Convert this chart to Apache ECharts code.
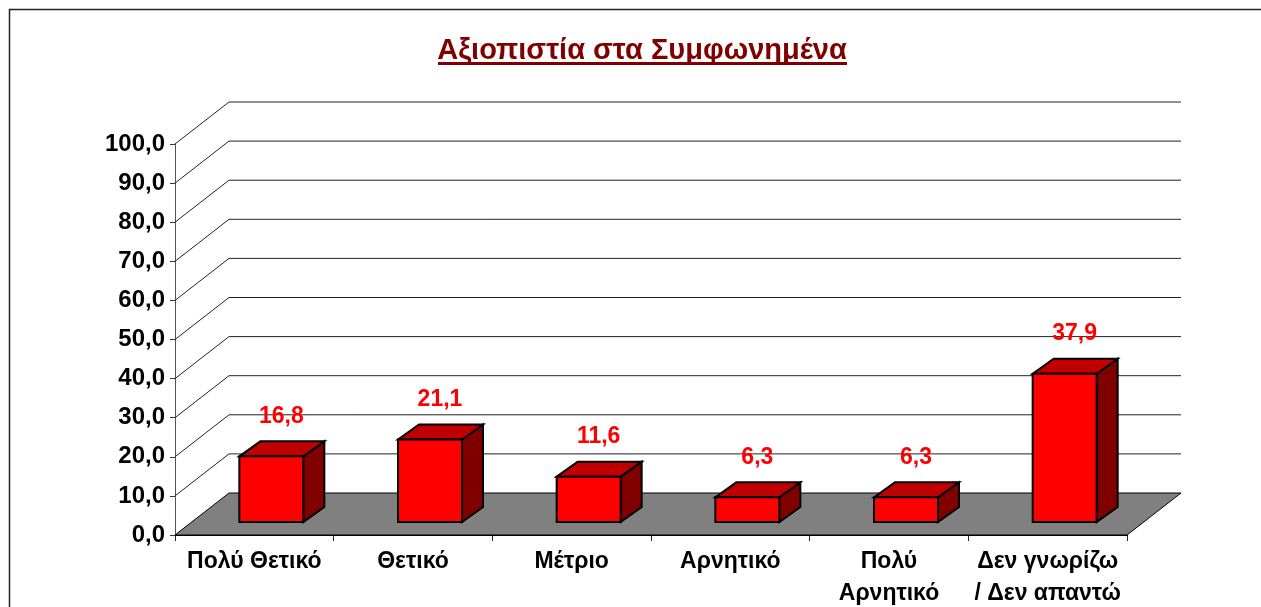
<!DOCTYPE html>
<html>
<head>
<meta charset="utf-8">
<title>Αξιοπιστία στα Συμφωνημένα</title>
<style>
html, body { margin: 0; padding: 0; background: #fff; overflow: hidden; }
#main { width: 1261px; height: 607px; }
</style>
<script src="https://cdn.jsdelivr.net/npm/echarts@6/dist/echarts.min.js"></script>
</head>
<body>
<div id="main"></div>
<script>
var categories = ['Πολύ Θετικό', 'Θετικό', 'Μέτριο', 'Αρνητικό', 'Πολύ\nΑρνητικό', 'Δεν γνωρίζω\n/ Δεν απαντώ'];
var values = [16.8, 21.1, 11.6, 6.3, 6.3, 37.9];
var ticks = [0, 10, 20, 30, 40, 50, 60, 70, 80, 90, 100];

// fake 3d offsets, in pixels
var wallDx = 54, wallDy = -42;
var barDx = 17, barDy = -13;
var depthDx = 21, depthDy = -15;
var barWidth = 64;

function comma(v) {
    return v.toFixed(1).replace('.', ',');
}

function renderWall(params, api) {
    var sys = params.coordSys;
    var v = api.value(1);
    var y = api.coord([0, v])[1];
    var x0 = sys.x, x1 = sys.x + sys.width;
    if (v === 0) {
        return {
            type: 'polygon',
            shape: { points: [[x0, y], [x0 + wallDx, y + wallDy], [x1 + wallDx, y + wallDy], [x1, y]] },
            style: { fill: '#808080', stroke: '#000', lineWidth: 1 },
            z2: 0
        };
    }
    return {
        type: 'polyline',
        shape: { points: [[x0, y], [x0 + wallDx, y + wallDy], [x1 + wallDx, y + wallDy]] },
        style: { fill: null, stroke: '#222', lineWidth: 1 }
    };
}

function renderBar(params, api) {
    var v = api.value(1);
    var top = api.coord([api.value(0), v]);
    var base = api.coord([api.value(0), 0]);
    var l = top[0] - barWidth / 2 + barDx, r = l + barWidth;
    var t = top[1] + barDy, b = base[1] + barDy;
    var edge = { stroke: '#000', lineWidth: 2, lineJoin: 'miter' };
    return {
        type: 'group',
        children: [
            {
                type: 'polygon',
                shape: { points: [[r, t], [r + depthDx, t + depthDy], [r + depthDx, b + depthDy], [r, b]] },
                style: Object.assign({ fill: '#800000' }, edge)
            },
            {
                type: 'polygon',
                shape: { points: [[l, t], [l + depthDx, t + depthDy], [r + depthDx, t + depthDy], [r, t]] },
                style: Object.assign({ fill: '#c00000' }, edge)
            },
            {
                type: 'rect',
                shape: { x: l, y: t, width: barWidth, height: b - t },
                style: Object.assign({ fill: '#ff0000' }, edge)
            },
            {
                type: 'text',
                style: {
                    x: l + barWidth / 2 + 10,
                    y: t - 40,
                    text: comma(v),
                    fill: '#ff0000',
                    font: 'bold 23px "Liberation Sans", Arial, sans-serif',
                    align: 'center',
                    verticalAlign: 'middle'
                }
            }
        ]
    };
}

var myChart = echarts.init(document.getElementById('main'));
var option = {
    animation: false,
    title: {
        text: 'Αξιοπιστία στα Συμφωνημένα',
        left: 637,
        top: 31,
        textAlign: 'center',
        textStyle: {
            color: '#800000',
            fontFamily: '"Liberation Sans", Arial, sans-serif',
            fontWeight: 'bold',
            fontSize: 29
        }
    },
    graphic: [
        {
            type: 'polyline',
            shape: { points: [[9.5, 607], [9.5, 9.5], [1261, 9.5]] },
            style: { fill: null, stroke: '#222', lineWidth: 1.5 }
        },
        {
            type: 'rect',
            shape: { x: 438, y: 62, width: 409, height: 3 },
            style: { fill: '#800000' }
        }
    ],
    grid: { left: 175, top: 144, width: 952, height: 391, outerBoundsMode: 'none' },
    xAxis: {
        type: 'category',
        data: categories,
        axisLine: { lineStyle: { color: '#000', width: 1 } },
        axisTick: { show: true, alignWithLabel: false, interval: 0, length: 6, lineStyle: { color: '#222', width: 1 } },
        axisLabel: {
            interval: 0,
            margin: 11,
            color: '#000',
            fontFamily: '"Liberation Sans", Arial, sans-serif',
            fontWeight: 'bold',
            fontSize: 23,
            lineHeight: 32
        }
    },
    yAxis: {
        type: 'value',
        min: 0,
        max: 100,
        interval: 10,
        splitLine: { show: false },
        axisLine: { show: true, lineStyle: { color: '#555', width: 1 } },
        axisTick: { show: true, length: 5, lineStyle: { color: '#333' } },
        axisLabel: {
            margin: 10,
            color: '#000',
            fontFamily: '"Liberation Sans", Arial, sans-serif',
            fontWeight: 'bold',
            fontSize: 24,
            formatter: function(v) { return comma(v); }
        }
    },
    series: [
        {
            name: 'walls',
            type: 'custom',
            renderItem: renderWall,
            clip: false,
            silent: true,
            z: 1,
            encode: { x: 0, y: 1 },
            data: ticks.map(function(t) { return [0, t]; })
        },
        {
            name: 'Αξιοπιστία',
            type: 'custom',
            renderItem: renderBar,
            clip: false,
            z: 5,
            encode: { x: 0, y: 1 },
            data: values.map(function(v, i) { return [i, v]; })
        }
    ]
};
myChart.setOption(option);
</script>
</body>
</html>
